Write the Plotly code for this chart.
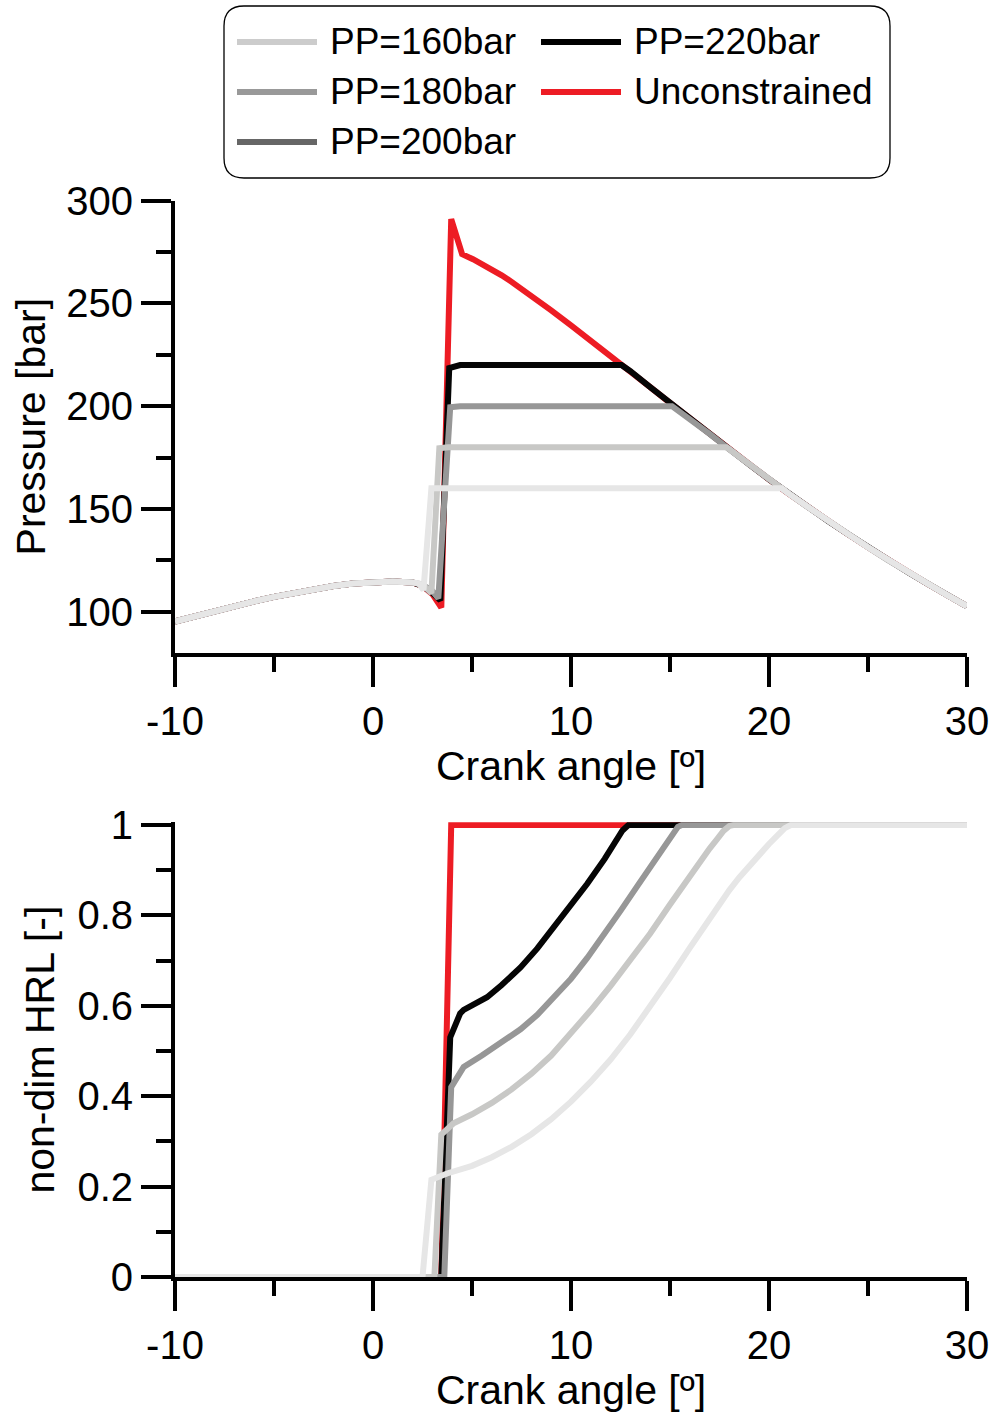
import plotly.graph_objects as go

# ---------------------------------------------------------------- data
series_names = ["PP=160bar", "PP=180bar", "PP=200bar", "PP=220bar", "Unconstrained"]
line_colors = ["#e6e6e6", "#c8c8c6", "#979797", "#050505", "#ed1c24"]
legend_colors = ["#cccccc", "#999999", "#666666", "#000000", "#ed1c24"]

x_tickvals = [-10, 0, 10, 20, 30]
x_ticktext = ["-10", "0", "10", "20", "30"]
x_minorvals = [-5, 5, 15, 25]
p_tickvals = [100, 150, 200, 250, 300]
p_minorvals = [125, 175, 225, 275]
hrl_tickvals = [0, 0.2, 0.4, 0.6, 0.8, 1]
hrl_ticktext = ["0", "0.2", "0.4", "0.6", "0.8", "1"]
hrl_minorvals = [0.1, 0.3, 0.5, 0.7, 0.9]

# motored compression, shared by every case [deg], [bar]
motor_angle = [-10, -9, -8, -7, -6, -5, -4, -3, -2, -1, 0, 1, 2]
motor_p = [95.2, 97.8, 100.3, 102.7, 105.0, 107.2, 109.2, 111.0, 112.5, 113.7, 114.4, 114.6, 114.2]

# expansion stroke after combustion [deg], [bar]
exp_angle = [5.05, 5.5, 6, 6.5, 7, 7.5, 8, 9, 10, 11, 12, 13, 14, 15, 16, 17, 18, 19, 20,
             21, 22, 23, 24, 25, 26, 27, 28, 29, 30]
exp_p = [271.5, 269.3, 266.6, 263.7, 260.5, 257.2, 253.8, 246.6, 239.3, 232.0, 224.5,
         217.0, 209.3, 201.6, 194.0, 186.5, 179.0, 171.6, 164.4, 157.4, 150.6, 144.0,
         137.6, 131.3, 125.2, 119.3, 113.6, 108.0, 102.6]

# ignition and peak-pressure segment of each case
comb_angle_160 = [2.3, 2.55, 2.95, 3.4, 20.65]
comb_p_160 = [113.8, 110.5, 160.0, 160.0, 160.0]
comb_angle_180 = [2.5, 2.95, 3.35, 3.8, 17.85]
comb_p_180 = [113.2, 109.0, 179.5, 180.0, 180.0]
comb_angle_200 = [2.5, 3.0, 3.3, 3.9, 4.4, 15.1]
comb_p_200 = [113.0, 110.0, 106.5, 199.5, 200.0, 200.0]
comb_angle_220 = [2.5, 3.0, 3.4, 3.85, 4.4, 12.55]
comb_p_220 = [112.5, 109.0, 105.5, 218.5, 220.0, 220.0]
comb_angle_unc = [2.5, 3.0, 3.45, 3.95, 4.5]
comb_p_unc = [112.5, 108.5, 102.0, 291.0, 274.0]

# non-dimensional heat release
hrl_angle_160 = [-10, 2.5, 2.95, 3.74, 5, 6, 7, 8, 9, 10, 11, 12, 13, 14, 15, 16, 17,
                 17.56, 18, 18.5, 19, 19.5, 20, 20.43, 20.8, 21.1, 30]
hrl_160 = [0, 0, 0.215, 0.229, 0.246, 0.265, 0.288, 0.316, 0.349, 0.388, 0.432, 0.481,
           0.537, 0.598, 0.662, 0.728, 0.794, 0.83, 0.856, 0.884, 0.91, 0.934, 0.958,
           0.977, 0.993, 1.0, 1.0]
hrl_angle_180 = [-10, 3.1, 3.45, 4.07, 5, 6, 7, 8, 9, 10, 11, 12, 13, 14, 15, 16, 16.5,
                 17, 17.4, 17.7, 18, 18.2, 30]
hrl_180 = [0, 0, 0.315, 0.34, 0.36, 0.385, 0.415, 0.45, 0.49, 0.538, 0.59, 0.644, 0.7,
           0.76, 0.824, 0.888, 0.918, 0.948, 0.97, 0.987, 0.998, 1.0, 1.0]
hrl_angle_200 = [-10, 3.6, 3.95, 4.58, 5.5, 6.5, 7.45, 8.3, 9.13, 10, 10.82, 11.7, 12.5,
                 13.4, 14.19, 14.7, 15.1, 15.4, 15.6, 30]
hrl_200 = [0, 0, 0.42, 0.465, 0.49, 0.518, 0.548, 0.58, 0.617, 0.66, 0.706, 0.758, 0.81,
           0.868, 0.92, 0.955, 0.982, 0.996, 1.0, 1.0]
hrl_angle_220 = [-10, 3.45, 3.9, 4.4, 4.58, 5.2, 5.76, 6.5, 7.45, 8.3, 9.13, 10, 10.82,
                 11.7, 12.3, 12.6, 12.9, 30]
hrl_220 = [0, 0, 0.53, 0.583, 0.591, 0.604, 0.619, 0.646, 0.685, 0.727, 0.773, 0.822,
           0.87, 0.925, 0.965, 0.988, 1.0, 1.0]
hrl_angle_unc = [-10, 3.45, 3.95, 30]
hrl_unc = [0, 0, 1.0, 1.0]

# ---------------------------------------------------------------- assemble curves
def pressure_curve(comb_angle, comb_p):
    tail = [(a, p) for a, p in zip(exp_angle, exp_p) if a > comb_angle[-1]]
    angle = motor_angle + comb_angle + [a for a, _ in tail]
    p = motor_p + comb_p + [v for _, v in tail]
    return angle, p

pressure = [
    pressure_curve(comb_angle_160, comb_p_160),
    pressure_curve(comb_angle_180, comb_p_180),
    pressure_curve(comb_angle_200, comb_p_200),
    pressure_curve(comb_angle_220, comb_p_220),
    pressure_curve(comb_angle_unc, comb_p_unc),
]
heat = [
    (hrl_angle_160, hrl_160),
    (hrl_angle_180, hrl_180),
    (hrl_angle_200, hrl_200),
    (hrl_angle_220, hrl_220),
    (hrl_angle_unc, hrl_unc),
]

FONT = "Liberation Sans, Arial, sans-serif"
W, H = 993, 1421
ML, MR = 175, 26
LW = 6

fig = go.Figure()
# unconstrained underneath, lightest case on top
for i in [4, 3, 2, 1, 0]:
    fig.add_trace(go.Scatter(x=pressure[i][0], y=pressure[i][1], mode="lines",
                             line=dict(color=line_colors[i], width=LW),
                             name=series_names[i], showlegend=False,
                             xaxis="x", yaxis="y"))
for i in [4, 3, 2, 1, 0]:
    fig.add_trace(go.Scatter(x=heat[i][0], y=heat[i][1], mode="lines",
                             line=dict(color=line_colors[i], width=LW),
                             name=series_names[i], showlegend=False,
                             xaxis="x2", yaxis="y2"))

def py(pix):
    return 1 - pix / H

def px(pix):
    return (pix - ML) / (W - ML - MR)

tickfont = dict(family=FONT, size=40, color="black")
titlefont = dict(family=FONT, size=41, color="black")

def xaxis(anchor):
    return dict(anchor=anchor, domain=[0, 1], range=[-10, 30],
                showline=True, linewidth=4, linecolor="black", mirror=False,
                showgrid=False, zeroline=False, layer="below traces",
                tickmode="array", tickvals=x_tickvals, ticktext=x_ticktext,
                ticks="outside", ticklen=30, tickwidth=4, tickcolor="black",
                minor=dict(tickmode="array", tickvals=x_minorvals, ticks="outside",
                           ticklen=15, tickwidth=4, tickcolor="black", showgrid=False),
                tickfont=tickfont,
                title=dict(text="Crank angle [º]", font=titlefont, standoff=10))

def yaxis(anchor, domain, rng, tv, tt, mv, title, standoff):
    d = dict(anchor=anchor, domain=domain, range=rng,
             showline=True, linewidth=4, linecolor="black",
             showgrid=False, zeroline=False, layer="below traces",
             tickmode="array", tickvals=tv,
             ticks="outside", ticklen=30, tickwidth=4, tickcolor="black",
             minor=dict(tickmode="array", tickvals=mv, ticks="outside",
                        ticklen=15, tickwidth=4, tickcolor="black", showgrid=False),
             tickfont=tickfont,
             title=dict(text=title, font=titlefont, standoff=standoff))
    if tt is not None:
        d["ticktext"] = tt
    return d

fig.update_layout(
    width=W, height=H,
    margin=dict(l=ML, r=MR, t=0, b=0),
    paper_bgcolor="white", plot_bgcolor="white",
    template="none",
    showlegend=False,
    font=dict(family=FONT, color="black"),
    xaxis=xaxis("y"),
    yaxis=yaxis("x", [py(652.7), py(200.7)], [80, 300], p_tickvals, None,
                p_minorvals, "Pressure [bar]", 9),
    xaxis2=xaxis("y2"),
    yaxis2=yaxis("x2", [py(1277), py(822.3)], [0, 1.006], hrl_tickvals, hrl_ticktext,
                 hrl_minorvals, "non-dim HRL [-]", 11),
)

# legend panel: rounded frame, sample lines and labels in two columns
bx0, bx1, by0, by1, r = 224, 890, 6, 178, 20
rx, ry = r / (W - ML - MR), r / H
X0, X1, Y0, Y1 = px(bx0), px(bx1), py(by1), py(by0)
frame = (f"M {X0 + rx},{Y1} L {X1 - rx},{Y1} Q {X1},{Y1} {X1},{Y1 - ry} "
         f"L {X1},{Y0 + ry} Q {X1},{Y0} {X1 - rx},{Y0} L {X0 + rx},{Y0} "
         f"Q {X0},{Y0} {X0},{Y0 + ry} L {X0},{Y1 - ry} Q {X0},{Y1} {X0 + rx},{Y1} Z")
fig.add_shape(type="path", path=frame, xref="paper", yref="paper",
              line=dict(color="black", width=1.3), fillcolor="white", layer="above")

legend_slots = [(237, 42), (237, 92), (237, 142), (541, 42), (541, 92)]
for (lx, ly), name, col in zip(legend_slots, series_names, legend_colors):
    fig.add_shape(type="line", xref="paper", yref="paper",
                  x0=px(lx), x1=px(lx + 80), y0=py(ly), y1=py(ly),
                  line=dict(color=col, width=6), layer="above")
    fig.add_annotation(x=px(lx + 91), y=py(ly), xref="paper", yref="paper",
                       text=name, showarrow=False, xanchor="left", yanchor="middle",
                       font=dict(family=FONT, size=37, color="black"))

fig.write_html("out.html")
